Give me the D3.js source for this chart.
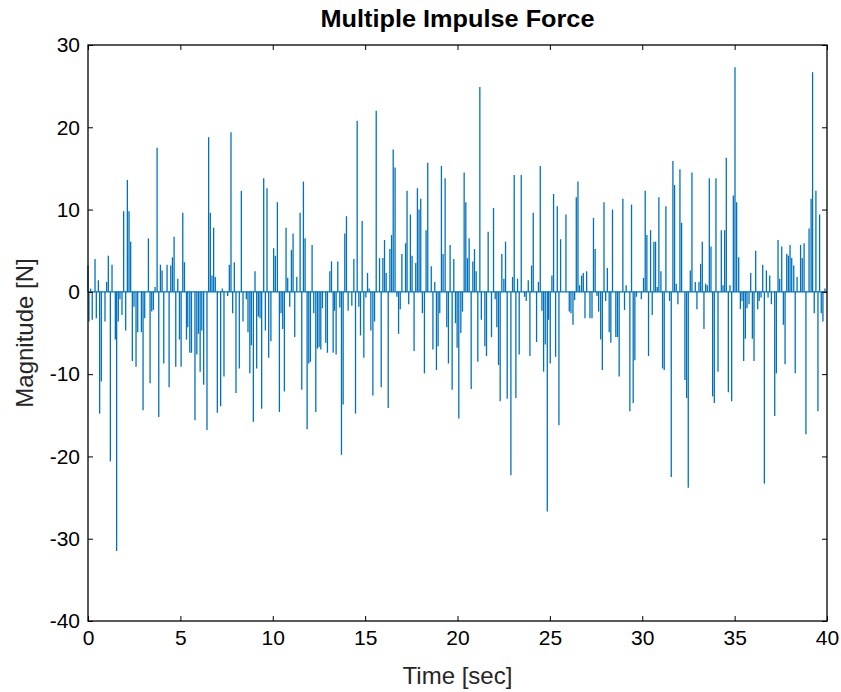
<!DOCTYPE html>
<html>
<head>
<meta charset="utf-8">
<script src="https://cdn.jsdelivr.net/npm/d3@7"></script>
<style>
  body { margin: 0; background: #fff; }
  text { font-family: "Liberation Sans", Arial, sans-serif; }
</style>
</head>
<body>
<div id="chart"></div>
<script>
// impulse times [sec] and magnitudes [N]
const impulseTime = [
  0.00,0.05,0.14,0.23,0.38,0.45,0.56,0.63,0.72,0.92,1.01,1.10,1.21,1.30,1.48,1.55,1.64,1.73,1.84,1.93,
  2.04,2.13,2.22,2.31,2.40,2.49,2.60,2.69,2.89,2.98,3.07,3.27,3.36,3.45,3.54,3.63,3.74,3.83,3.92,4.01,
  4.10,4.28,4.39,4.48,4.57,4.66,4.75,4.86,4.95,
  5.04,5.13,5.22,5.33,5.40,5.51,5.60,5.79,5.89,5.98,6.07,6.16,6.26,6.44,6.53,6.62,6.71,6.80,6.89,7.00,
  7.18,7.27,7.36,7.56,7.65,7.74,7.83,7.92,8.01,8.19,8.30,8.39,8.57,8.66,8.76,8.84,8.95,9.04,9.13,9.22,
  9.31,9.40,9.51,9.60,9.69,9.78,9.90,
  10.05,10.14,10.25,10.36,10.45,10.54,10.63,10.72,10.81,10.92,11.01,11.10,11.19,11.30,11.48,11.57,11.66,11.75,11.86,11.95,
  12.04,12.13,12.22,12.33,12.42,12.51,12.60,12.69,12.87,12.96,13.09,13.18,13.27,13.34,13.43,13.52,13.63,13.72,13.81,13.90,
  13.99,14.08,14.28,14.39,14.48,14.57,14.66,14.75,14.84,14.93,
  15.04,15.13,15.22,15.31,15.42,15.51,15.60,15.78,15.87,15.96,16.05,16.14,16.25,16.34,16.43,16.52,16.62,16.72,16.81,16.90,
  16.99,17.19,17.27,17.36,17.45,17.54,17.65,17.74,17.83,17.92,18.01,18.10,18.21,18.30,18.39,18.58,18.67,18.77,18.86,18.95,
  19.04,19.13,19.22,19.33,19.42,19.51,19.60,19.71,19.80,19.89,
  19.98,20.07,20.18,20.27,20.36,20.45,20.54,20.63,20.74,20.83,20.92,21.01,21.10,21.21,21.29,21.48,21.57,21.66,21.84,21.95,
  22.04,22.13,22.22,22.31,22.40,22.51,22.60,22.69,22.89,22.98,23.07,23.16,23.25,23.34,23.45,23.63,23.72,23.83,23.92,24.01,
  24.10,24.28,24.38,24.48,24.57,24.66,24.75,24.86,
  24.93,25.02,25.11,25.20,25.31,25.40,25.49,25.58,25.87,26.05,26.14,26.25,26.34,26.43,26.52,26.61,26.72,26.81,26.90,26.99,
  27.17,27.28,27.36,27.45,27.55,27.64,27.75,27.84,27.93,28.02,28.11,28.21,28.30,28.39,28.57,28.66,28.75,28.95,29.04,29.13,
  29.33,29.42,29.51,29.60,29.69,
  29.95,30.07,30.16,30.25,30.34,30.45,30.54,30.63,30.72,30.81,30.90,31.01,31.10,31.19,31.28,31.48,31.57,31.66,31.75,31.84,
  31.93,32.04,32.13,32.31,32.40,32.49,32.60,32.69,32.87,32.96,33.07,33.16,33.25,33.34,33.43,33.52,33.63,33.72,33.81,33.90,
  33.99,34.10,34.28,34.37,34.46,34.55,34.66,34.75,34.84,
  34.93,35.02,35.11,35.22,35.31,35.40,35.49,35.58,35.67,35.78,35.87,35.96,36.05,36.14,36.25,36.33,36.43,36.52,36.61,36.72,
  36.81,36.90,36.99,37.17,37.26,37.35,37.44,37.55,37.64,37.73,37.82,37.91,38.00,38.09,38.20,38.28,38.38,38.57,38.66,38.76,
  38.86,39.03,39.14,39.22,39.31,39.40,39.51,39.60,39.69,39.78,39.89
];

const impulseForce = [
  3.2,-3.6,0.4,-3.4,4.0,-3.2,1.4,-14.8,-10.9,-3.6,1.2,4.4,-20.6,3.3,-5.8,-31.5,-3.6,-0.9,-2.8,9.8,
  -4.7,13.6,9.8,6.1,-8.4,-1.8,-9.1,-4.9,-4.9,-14.4,-3.2,6.5,-11.1,-2.4,-2.2,0.6,17.5,-15.2,3.3,2.6,
  -8.7,3.3,-11.6,3.2,4.2,6.7,-9.1,1.6,-5.8,
  -9.1,9.6,3.6,-5.8,-4.3,-7.4,-7.4,-15.6,-7.6,-5.1,-9.7,-4.7,-11.3,-16.8,18.8,9.6,2.0,7.8,1.8,-14.7,
  -13.9,0.4,-10.3,-0.5,3.3,19.4,-2.6,3.6,-12.3,-9.3,12.3,-3.6,-0.9,-4.9,-9.9,-6.5,-15.8,2.5,-9.3,-3.0,
  -3.2,-14.2,13.8,-4.7,12.6,-8.0,-6.0,
  5.3,4.4,10.9,-14.6,-2.6,-4.5,-12.1,7.8,1.7,-1.8,5.1,7.1,-5.5,1.8,9.6,-11.9,13.4,6.5,-16.7,-8.7,
  -8.5,5.7,-2.6,-14.6,-6.9,-6.7,-7.0,-2.0,-6.2,-7.4,2.5,3.7,-7.4,-2.3,-7.6,3.7,-1.9,-19.8,-13.7,7.1,
  9.2,-2.3,-1.7,4.0,-14.8,20.8,-1.8,-5.3,8.6,-8.0,
  -0.7,2.3,0.4,-4.7,-12.6,-3.6,22.0,4.1,-11.6,4.1,6.3,2.3,-14.1,5.2,6.9,17.3,15.1,-0.6,-5.1,-2.1,
  4.6,5.9,12.3,-1.5,9.4,4.4,-7.2,3.5,12.6,10.0,11.3,-2.6,-9.9,7.5,15.7,3.1,-7.0,1.2,-9.5,-6.6,
  -2.6,15.3,4.6,13.8,-4.3,-8.7,5.7,-11.9,4.0,-3.8,
  -6.8,-15.4,-5.0,-2.4,14.5,10.9,4.1,6.5,-11.8,3.7,5.2,2.5,-8.5,24.9,-3.4,-6.6,-7.8,7.3,-5.5,10.2,
  -0.9,-4.3,-8.9,-13.3,4.6,1.6,6.1,-13.0,-22.3,1.8,14.2,-12.9,1.6,-7.6,14.2,-0.6,-1.1,1.4,-7.8,3.2,
  9.6,-6.1,1.2,15.3,-2.3,-9.7,-6.4,-26.7,
  -3.4,-8.7,2.0,11.9,-7.9,10.4,-16.2,6.4,9.4,-2.4,-2.6,-4.0,-1.0,11.5,13.4,0.8,2.0,2.3,-3.2,2.5,
  -3.2,-3.2,9.0,5.2,-0.5,-2.4,-5.8,-9.5,10.9,-1.1,2.9,-4.9,-6.2,10.0,-5.5,-5.5,-10.3,11.3,-2.2,0.8,
  -14.5,10.6,-13.5,-8.3,-0.6,
  -0.9,1.7,12.3,6.9,-7.8,7.5,-2.8,6.1,6.1,0.6,11.5,2.5,-9.3,-9.5,10.4,-1.1,-22.5,15.9,13.0,1.0,
  -1.5,14.9,8.4,-10.7,-12.9,-23.8,2.6,14.5,1.2,-2.1,1.2,3.4,6.1,-4.5,1.0,0.8,13.8,5.5,-12.7,-13.5,
  13.8,-9.7,7.5,0.8,7.5,16.3,-12.2,0.8,-13.3,
  11.7,27.3,10.9,4.2,-2.1,-1.1,-8.4,-5.7,-2.0,-1.5,2.3,-5.7,-8.4,5.0,-2.1,-1.1,-0.7,3.3,-23.3,2.6,
  -0.7,2.0,-1.5,-15.1,-9.9,6.3,1.6,5.5,-4.0,-8.8,4.6,4.4,5.7,4.1,3.2,-9.9,1.8,5.7,4.1,5.9,
  -17.3,7.7,11.3,26.7,-2.6,12.3,-14.5,9.4,-2.6,-3.6,0.4
];

const xTicks = [0, 5, 10, 15, 20, 25, 30, 35, 40];
const yTicks = [-40, -30, -20, -10, 0, 10, 20, 30];

const width = 841, height = 692;
const margin = {top: 45, right: 14, bottom: 71, left: 88};

const svg = d3.select("#chart")
  .append("svg")
  .attr("width", width)
  .attr("height", height);

const xScale = d3.scaleLinear()
  .domain([0, 40])
  .range([margin.left, width - margin.right]);

const yScale = d3.scaleLinear()
  .domain([-40, 30])
  .range([height - margin.bottom, margin.top]);

const data = impulseTime.map((t, i) => ({t: t, f: impulseForce[i]}));

// baseline of the signal
svg.append("line")
  .attr("x1", xScale(0))
  .attr("x2", xScale(40))
  .attr("y1", yScale(0))
  .attr("y2", yScale(0))
  .attr("stroke", "#0072BD")
  .attr("stroke-width", 1.3);

svg.selectAll(".spike")
  .data(data)
  .enter()
  .append("line")
  .attr("class", "spike")
  .attr("x1", d => xScale(d.t))
  .attr("x2", d => xScale(d.t))
  .attr("y1", yScale(0))
  .attr("y2", d => yScale(d.f))
  .attr("stroke", "#0072BD")
  .attr("stroke-width", 1.3);

// axes, ticks pointing inward like matlab (plain hyphen for negatives)
const fmt = d => String(d);
const gx = svg.append("g")
  .attr("transform", `translate(0,${height - margin.bottom})`)
  .call(d3.axisBottom(xScale).tickValues(xTicks).tickSize(-5).tickPadding(9).tickFormat(fmt));
const gxTop = svg.append("g")
  .attr("transform", `translate(0,${margin.top})`)
  .call(d3.axisTop(xScale).tickValues(xTicks).tickSize(-5).tickFormat(""));
const gy = svg.append("g")
  .attr("transform", `translate(${margin.left},0)`)
  .call(d3.axisLeft(yScale).tickValues(yTicks).tickSize(-5).tickPadding(8).tickFormat(fmt));
const gyRight = svg.append("g")
  .attr("transform", `translate(${width - margin.right},0)`)
  .call(d3.axisRight(yScale).tickValues(yTicks).tickSize(-5).tickFormat(""));

[gx, gxTop, gy, gyRight].forEach(g => {
  g.select(".domain").remove();
  g.selectAll("line").attr("stroke", "#000").attr("stroke-width", 1);
  g.selectAll("text")
    .attr("fill", "#000")
    .style("font-size", "21px")
    .style("font-family", "'Liberation Sans', Arial, sans-serif");
});

svg.append("rect")
  .attr("x", margin.left)
  .attr("y", margin.top)
  .attr("width", width - margin.left - margin.right)
  .attr("height", height - margin.top - margin.bottom)
  .attr("fill", "none")
  .attr("stroke", "#000")
  .attr("stroke-width", 1.3);

// title and labels
svg.append("text")
  .attr("x", (margin.left + width - margin.right) / 2)
  .attr("y", 27)
  .attr("text-anchor", "middle")
  .attr("font-weight", "bold")
  .attr("font-size", "24px")
  .attr("textLength", 274)
  .attr("lengthAdjust", "spacingAndGlyphs")
  .text("Multiple Impulse Force");

svg.append("text")
  .attr("x", (margin.left + width - margin.right) / 2)
  .attr("y", 684)
  .attr("text-anchor", "middle")
  .attr("font-size", "24px")
  .attr("fill", "#262626")
  .text("Time [sec]");

svg.append("text")
  .attr("transform", `translate(33,${(margin.top + height - margin.bottom) / 2}) rotate(-90)`)
  .attr("text-anchor", "middle")
  .attr("font-size", "24px")
  .attr("fill", "#262626")
  .text("Magnitude [N]");
</script>
</body>
</html>
